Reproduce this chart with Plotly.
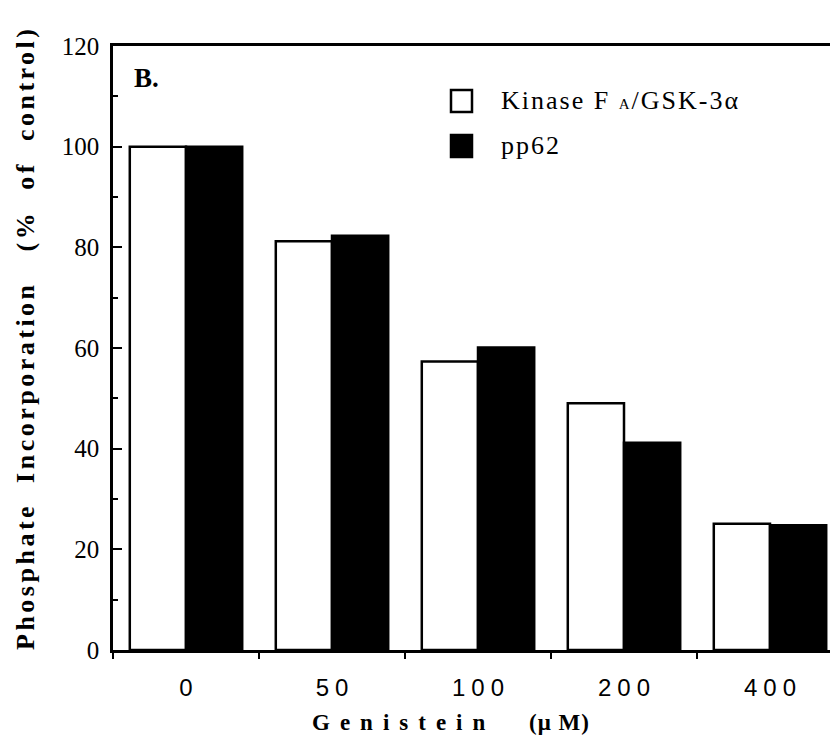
import plotly.graph_objects as go

doses = ["0", "50", "100", "200", "400"]
kinase_fa = [100, 81.2, 57.3, 49.0, 25.1]
pp62 = [100, 82.3, 60.1, 41.2, 24.8]

cat_labels = ["\u2005".join(list(d)) for d in doses]

fig = go.Figure()
fig.add_trace(go.Bar(
    x=cat_labels, y=kinase_fa, name="Kinase FA/GSK-3α",
    marker=dict(color="white", line=dict(color="black", width=2.5)),
    showlegend=False,
))
fig.add_trace(go.Bar(
    x=cat_labels, y=pp62, name="pp62",
    marker=dict(color="black", line=dict(color="black", width=2.5)),
    showlegend=False,
))

OFF = 8  # page body margin
W, H = 838 - OFF, 744 - OFF
ml, mt, mb, mr = 113 - OFF, 46 - OFF, 94, 0
pw = W - ml - mr
ph = H - mt - mb
group_px = 146
xr = pw / group_px


def px2x(px):  # screen px -> paper x
    return (px - OFF - ml) / pw


def px2y(py):  # screen px -> paper y
    return (650 - py) / ph


fig.update_layout(
    width=W, height=H,
    margin=dict(l=ml, r=mr, t=mt, b=mb),
    paper_bgcolor="white", plot_bgcolor="white",
    barmode="group", bargap=0.23, bargroupgap=0,
    font=dict(family="Liberation Serif", color="black"),
    xaxis=dict(
        type="category", range=[-0.5, -0.5 + xr],
        tickson="boundaries", ticks="outside", ticklen=6, tickwidth=2,
        tickcolor="black",
        showline=True, linecolor="black", linewidth=2.5, mirror=True,
        showgrid=False, zeroline=False,
        tickfont=dict(family="Liberation Sans", size=24, color="black"),
        ticklabelstandoff=14,
    ),
    yaxis=dict(
        range=[0, 120], tickvals=[0, 20, 40, 60, 80, 100, 120],
        ticks="inside", ticklen=9, tickwidth=2, tickcolor="black",
        minor=dict(ticks="inside", ticklen=5, tickwidth=2, tickcolor="black",
                   tickvals=[10, 30, 50, 70, 90, 110]),
        showline=True, linecolor="black", linewidth=2.5,
        showgrid=False, zeroline=False,
        tickfont=dict(family="Liberation Serif", size=25, color="black"),
        ticklabelstandoff=6,
    ),
)

NB = "\u00a0"
# Y-axis title (letter spaced)
ytitle = ("<span style='letter-spacing:3.5px'><b>Phosphate" + NB * 2 + "Incorporation"
          + NB * 3 + "(%" + NB * 2 + "of" + NB * 2 + "control)</b></span>")
fig.add_annotation(
    text=ytitle, textangle=-90,
    xref="paper", yref="paper", x=0, y=px2y(338),
    xshift=-(ml - (25 - OFF)), xanchor="center", yanchor="middle", showarrow=False,
    font=dict(family="Liberation Serif", size=26, color="black"),
)

# X-axis title
xtitle = ("<b><span style='letter-spacing:10px'>Genistein</span>"
          "<span style='letter-spacing:1px'>" + NB * 5 + "(μ" + NB + "M)</span></b>")
fig.add_annotation(
    text=xtitle,
    xref="paper", yref="paper", x=px2x(310), y=px2y(722),
    xanchor="left", yanchor="middle", showarrow=False,
    font=dict(family="Liberation Serif", size=23, color="black"),
)

# Panel label
fig.add_annotation(
    text="<b>B.</b>", xref="paper", yref="paper",
    x=px2x(132), y=px2y(78),
    xanchor="left", yanchor="middle", showarrow=False,
    font=dict(family="Liberation Serif", size=27, color="black"),
)

# Custom legend
legend_items = [("Kinase F" + NB + "<span style='font-size:15px'>A</span>/GSK-3α", "white", 101),
                ("pp62", "black", 146)]
for label, fill, cy in legend_items:
    fig.add_shape(type="rect", xref="paper", yref="paper",
                  x0=px2x(451), x1=px2x(472), y0=px2y(cy + 11), y1=px2y(cy - 11),
                  fillcolor=fill, line=dict(color="black", width=2.5))
    fig.add_annotation(text="<span style='letter-spacing:2px'>" + label + "</span>",
                       xref="paper", yref="paper",
                       x=px2x(499), y=px2y(cy), xanchor="left", yanchor="middle",
                       showarrow=False,
                       font=dict(family="Liberation Serif", size=26, color="black"))

fig.write_html("out.html")
